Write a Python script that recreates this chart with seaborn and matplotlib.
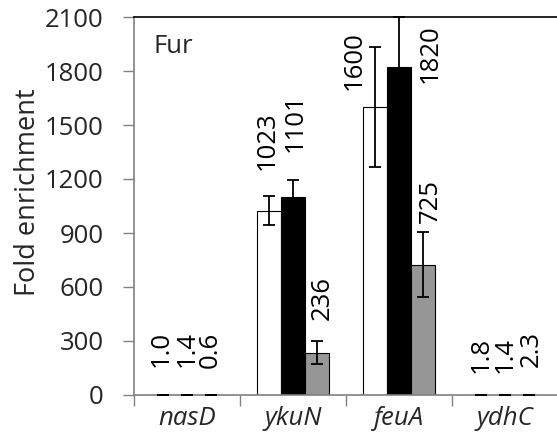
import numpy as np
import pandas as pd
import matplotlib
matplotlib.use("Agg")
import matplotlib.pyplot as plt
import seaborn as sns

# values
genes = ["nasD", "ykuN", "feuA", "ydhC"]
strains = ["strain 1", "strain 2", "strain 3"]
enrich_1 = [1.0, 1023, 1600, 1.8]
enrich_2 = [1.4, 1101, 1820, 1.4]
enrich_3 = [0.6, 236, 725, 2.3]
err_1 = [0.2, 80, 335, 0.3]
err_2 = [0.3, 93, 280, 0.3]
err_3 = [0.1, 66, 183, 0.4]

values = [enrich_1, enrich_2, enrich_3]
errors = [err_1, err_2, err_3]

df = pd.DataFrame({
    "Gene": np.repeat(genes, len(strains)),
    "Strain": strains * len(genes),
    "Fold enrichment": [values[s][g] for g in range(len(genes)) for s in range(len(strains))],
})

# label placement (manual, as in the original figure)
label_dx = [[-0.02, -0.02, -0.2, 0.0],
            [0.0, 0.02, 0.29, 0.0],
            [0.0, 0.05, 0.07, 0.02]]
label_y = [[155, 1250, 1694, 122],
           [155, 1350, 1733, 122],
           [150, 417, 955, 155]]

sns.set_theme(style="white")
plt.rcParams["font.family"] = ["Open Sans", "DejaVu Sans"]
fs = 18.5

fig = plt.figure(figsize=(5.57, 4.43), dpi=100)
ax = fig.add_axes([134 / 557, 48 / 443, 424 / 557, 378 / 443])

palette = {"strain 1": "white", "strain 2": "black", "strain 3": "#969696"}
sns.barplot(data=df, x="Gene", y="Fold enrichment", hue="Strain", order=genes,
            hue_order=strains, palette=palette, edgecolor="black", linewidth=0.8,
            width=0.67, errorbar=None, legend=False, ax=ax)

bar_groups = list(ax.containers)
for s, cont in enumerate(bar_groups):
    for g, bar in enumerate(cont):
        cx = bar.get_x() + bar.get_width() / 2
        v = values[s][g]
        ax.errorbar(cx, v, yerr=errors[s][g], color="black", elinewidth=1.3,
                    capsize=4.5, capthick=1.3, clip_on=False, zorder=5)
        txt = f"{v:.1f}" if v < 10 else f"{v:.0f}"
        ax.text(cx + label_dx[s][g], label_y[s][g], txt, rotation=90,
                ha="center", va="bottom", fontsize=fs, color="black")

ax.set_xlim(-0.5, 3.5)
ax.set_ylim(0, 2100)
ax.set_yticks(np.arange(0, 2101, 300))
ax.set_xticks(range(len(genes)))
ax.set_xticklabels(genes, fontstyle="italic", fontsize=fs)
ax.set_xticks(np.arange(-0.5, 3.6, 1), minor=True)
ax.tick_params(axis="x", which="major", length=0, pad=8)
ax.tick_params(axis="x", which="minor", length=8, width=1, color="#808080", direction="out", bottom=True)
ax.tick_params(axis="y", length=8, width=1, color="#808080", direction="out", left=True, labelsize=fs, pad=14)

ax.set_xlabel("")
ax.set_ylabel("Fold enrichment", fontsize=19.5)
ax.yaxis.set_label_coords(-0.218, 0.537)

ax.spines["left"].set_color("#808080")
ax.spines["bottom"].set_color("#808080")
ax.spines["top"].set_color("black")
for sp in ["left", "bottom", "top"]:
    ax.spines[sp].set_linewidth(1.2)
ax.spines["right"].set_visible(False)

ax.text(0.045, 0.955, "Fur", transform=ax.transAxes, fontsize=fs, ha="left", va="top")

fig.savefig("out.png", dpi=100)
